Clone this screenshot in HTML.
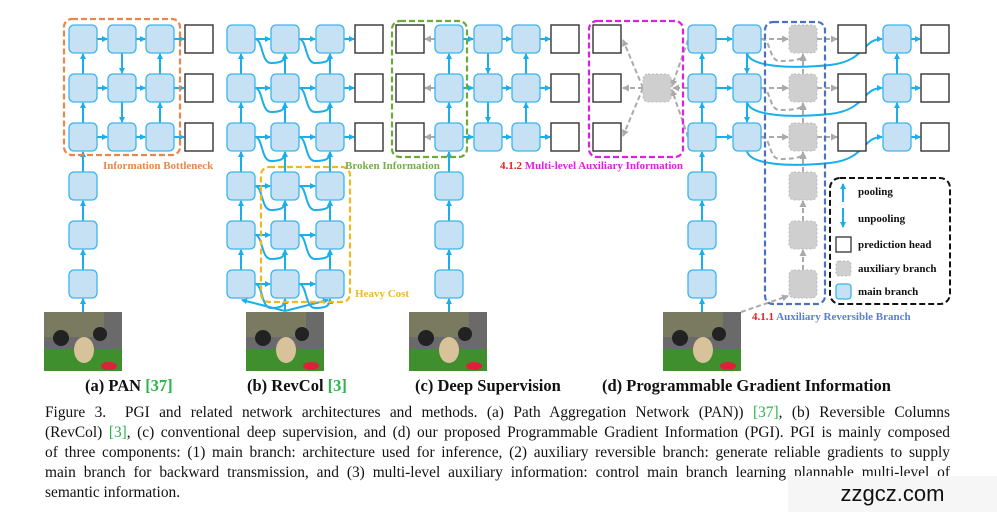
<!DOCTYPE html>
<html><head><meta charset="utf-8"><style>
body{margin:0;background:#fff;width:997px;height:512px;overflow:hidden;position:relative;font-family:"Liberation Serif",serif}
svg{position:absolute;left:0;top:0}
.cap{position:absolute;left:45px;width:905px;font-size:15.4px;line-height:20px;top:403px;color:#111}
.cap div{text-align:justify;text-align-last:justify;white-space:nowrap}
.cap div.last{text-align-last:left}
.sub{position:absolute;top:376px;font-weight:bold;font-size:16.5px;white-space:nowrap;color:#111}
.g{color:#2bb44a}
.wm{position:absolute;left:788px;top:476px;width:209px;height:36px;background:#f6f6f6;font-family:"Liberation Sans",sans-serif;font-size:22px;text-align:center;line-height:36px;color:#111}
</style></head><body>
<svg id="s" width="997" height="512" xmlns="http://www.w3.org/2000/svg">
<defs>
<marker id="ab" markerWidth="6" markerHeight="6" refX="5" refY="3" orient="auto" markerUnits="userSpaceOnUse"><path d="M0,0L6,3L0,6z" fill="#1aaeea"/></marker>
<marker id="ag" markerWidth="7" markerHeight="7" refX="6" refY="3.5" orient="auto" markerUnits="userSpaceOnUse"><path d="M0,0L7,3.5L0,7z" fill="#aaa"/></marker>
</defs>
<g id="L"></g><g id="N"></g>
<g font-weight="bold" font-size="11px" font-family="Liberation Serif,serif">
<text x="103" y="169" fill="#e8874a">Information Bottleneck</text>
<text x="355" y="297" fill="#f0b820">Heavy Cost</text>
<text x="345" y="169" fill="#78ad4a">Broken Information</text>
<text x="500" y="169"><tspan fill="#e82020">4.1.2 </tspan><tspan fill="#e020e0">Multi-level Auxiliary Information</tspan></text>
<text x="752" y="320"><tspan fill="#e82020">4.1.1 </tspan><tspan fill="#5a7fd0">Auxiliary Reversible Branch</tspan></text>
<text x="858" y="195" fill="#111">pooling</text>
<text x="858" y="222" fill="#111">unpooling</text>
<text x="858" y="248" fill="#111">prediction head</text>
<text x="858" y="272" fill="#111">auxiliary branch</text>
<text x="858" y="295" fill="#111">main branch</text>
</g>
</svg>
<div class="sub" style="left:85px">(a) PAN <span class="g">[37]</span></div>
<div class="sub" style="left:247px">(b) RevCol <span class="g">[3]</span></div>
<div class="sub" style="left:415px">(c) Deep Supervision</div>
<div class="sub" style="left:602px">(d) Programmable Gradient Information</div>
<div class="cap">
<div>Figure 3.&nbsp; PGI and related network architectures and methods. (a) Path Aggregation Network (PAN)) <span class="g">[37]</span>, (b) Reversible Columns</div>
<div>(RevCol) <span class="g">[3]</span>, (c) conventional deep supervision, and (d) our proposed Programmable Gradient Information (PGI). PGI is mainly composed</div>
<div>of three components: (1) main branch: architecture used for inference, (2) auxiliary reversible branch: generate reliable gradients to supply</div>
<div>main branch for backward transmission, and (3) multi-level auxiliary information: control main branch learning plannable multi-level of</div>
<div class="last">semantic information.</div>
</div>
<div class="wm">zzgcz.com</div>
<script>
var NS="http://www.w3.org/2000/svg",L=document.getElementById("L"),N=document.getElementById("N");
function el(p,t,a){var e=document.createElementNS(NS,t);for(var k in a)e.setAttribute(k,a[k]);p.appendChild(e);return e;}
var R=[25,74,123,172,221,270],S=28;
function node(x,r){el(N,"rect",{x:x,y:R[r],width:S,height:S,rx:5,fill:"#c6e0f4",stroke:"#3db5ea","stroke-width":1.3});}
function head(x,r){el(N,"rect",{x:x,y:R[r],width:S,height:S,fill:"#fff",stroke:"#333","stroke-width":1.4});}
function gray(x,r){el(N,"rect",{x:x,y:R[r],width:S,height:S,rx:5,fill:"#cfcfcf",stroke:"#bbb","stroke-width":1,"stroke-dasharray":"2,2"});}
function line(x1,y1,x2,y2,g){el(L,"line",{x1:x1,y1:y1,x2:x2,y2:y2,stroke:g?"#aaa":"#1aaeea","stroke-width":2,"stroke-dasharray":g?"5,3":"none","marker-end":g?"url(#ag)":"url(#ab)"});}
function path(d,g){el(L,"path",{d:d,fill:"none",stroke:g?"#aaa":"#1aaeea","stroke-width":2,"stroke-dasharray":g?"5,3":"none","marker-end":g?"url(#ag)":"url(#ab)"});}
function cy(r){return R[r]+14;}
function hr(x1,x2,r,g){line(x1+S,cy(r),x2-1,cy(r),g);}
function up(x,r1,r2,g){line(x+14,R[r1],x+14,R[r2]+S+1,g);}
function dn(x,r1,r2){line(x+14,R[r1]+S,x+14,R[r2]-1);}
function box(x,y,w,h,c){el(N,"rect",{x:x,y:y,width:w,height:h,rx:8,fill:"none",stroke:c,"stroke-width":2.2,"stroke-dasharray":"6,3"});}
// PAN
var a=[69,108,146],ah=185;
for(var r=0;r<3;r++){a.forEach(function(x){node(x,r)});head(ah,r);hr(a[0],a[1],r);hr(a[1],a[2],r);hr(a[2],ah,r);}
for(r=3;r<6;r++)node(a[0],r);
for(r=5;r>0;r--)up(a[0],r,r-1);
line(83,312,83,R[5]+S+1);
dn(a[1],0,1);dn(a[1],1,2);up(a[2],2,1);up(a[2],1,0);
box(64,19,116,136,"#e8874a");
// RevCol
var b=[227,271,316],bh=355;
for(r=0;r<6;r++){b.forEach(function(x){node(x,r)});hr(b[0],b[1],r);hr(b[1],b[2],r);if(r<3){head(bh,r);hr(b[2],bh,r);}}
for(r=5;r>0;r--){b.forEach(function(x){up(x,r,r-1)});}
for(r=0;r<6;r++){for(var c=1;c<3;c++){var x0=b[c-1]+S,xc=b[c]+14,y=cy(r);path("M"+x0+","+y+" C"+(x0+8)+","+y+" "+(x0+6)+","+(y+24)+" "+(x0+16)+","+(y+24)+" C"+(xc-4)+","+(y+24)+" "+xc+","+(y+22)+" "+xc+","+(R[r]+S+1));}}
line(285,311,242,300);line(285,311,285,299);line(285,311,328,300);
box(261,167,89,135,"#f0b820");
// Deep supervision
var ch=396,c0=[435,474,512],cr=551;
for(r=0;r<3;r++){head(ch,r);c0.forEach(function(x){node(x,r)});head(cr,r);hr(c0[0],c0[1],r);hr(c0[1],c0[2],r);hr(c0[2],cr,r);line(c0[0],cy(r),ch+S+1,cy(r),true);}
for(r=3;r<6;r++)node(c0[0],r);
for(r=5;r>0;r--)up(c0[0],r,r-1);
line(449,312,449,R[5]+S+1);
dn(c0[1],0,1);dn(c0[1],1,2);up(c0[2],2,1);up(c0[2],1,0);
box(392,21,75,136,"#6aaa3a");
// Aux info
for(r=0;r<3;r++)head(593,r);
gray(643,1);
line(643,88,623,40,true);line(643,88,623,88,true);line(643,88,623,136,true);
line(688,40,672,86,true);line(688,88,673,88,true);line(688,137,672,90,true);
box(589,21,94,136,"#e020e0");
// PGI
var p0=688,p1=733,pg=789,ph=838,p2=883,ph2=921;
for(r=0;r<6;r++){node(p0,r);gray(pg,r);}
for(r=0;r<3;r++){node(p1,r);head(ph,r);node(p2,r);head(ph2,r);hr(p0,p1,r);hr(p1,pg,r,true);hr(pg,ph,r,true);hr(p2,ph2,r);
 path("M761,"+cy(r)+" C772,"+cy(r)+" 768,"+(cy(r)+22)+" 780,"+(cy(r)+22)+" C796,"+(cy(r)+22)+" 803,"+(cy(r)+20)+" 803,"+(R[r]+S+2),true);
 path("M747,"+(R[r]+S)+" C750,"+(R[r]+S+14)+" 790,"+(R[r]+S+16)+" 830,"+(R[r]+S+12)+" C866,"+(R[r]+S+8)+" 862,"+cy(r)+" 882,"+cy(r));}
for(r=5;r>0;r--){up(p0,r,r-1);up(pg,r,r-1,true);}
up(p2,2,1);up(p2,1,0);dn(p1,0,1);dn(p1,1,2);
line(702,312,702,R[5]+S+1);
line(741,312,788,296,true);
box(765,22,60,282,"#4a72c0");
// legend
el(N,"rect",{x:830,y:178,width:120,height:126,rx:10,fill:"none",stroke:"#111","stroke-width":2,"stroke-dasharray":"6,3"});
line(843,202,843,184);line(843,208,843,227);
el(N,"rect",{x:836,y:237,width:15,height:15,fill:"#fff",stroke:"#333","stroke-width":1.3});
el(N,"rect",{x:836,y:261,width:15,height:15,rx:3,fill:"#cfcfcf",stroke:"#bbb","stroke-dasharray":"2,2"});
el(N,"rect",{x:836,y:284,width:15,height:15,rx:3,fill:"#c6e0f4",stroke:"#3db5ea","stroke-width":1.3});
// images
[44,246,409,663].forEach(function(x){
 var g=el(N,"g",{});
 el(g,"rect",{x:x,y:312,width:78,height:59,fill:"#6a6a6a"});
 el(g,"rect",{x:x,y:349,width:78,height:22,fill:"#3f8f2e"});
 el(g,"rect",{x:x,y:312,width:60,height:25,fill:"#7a7a60"});
 el(g,"circle",{cx:x+17,cy:338,r:8,fill:"#222"});
 el(g,"circle",{cx:x+56,cy:334,r:7,fill:"#222"});
 el(g,"ellipse",{cx:x+40,cy:350,rx:10,ry:13,fill:"#d8c29a"});
 el(g,"ellipse",{cx:x+65,cy:366,rx:8,ry:4,fill:"#e0203a"});
});
</script>
</body></html>
